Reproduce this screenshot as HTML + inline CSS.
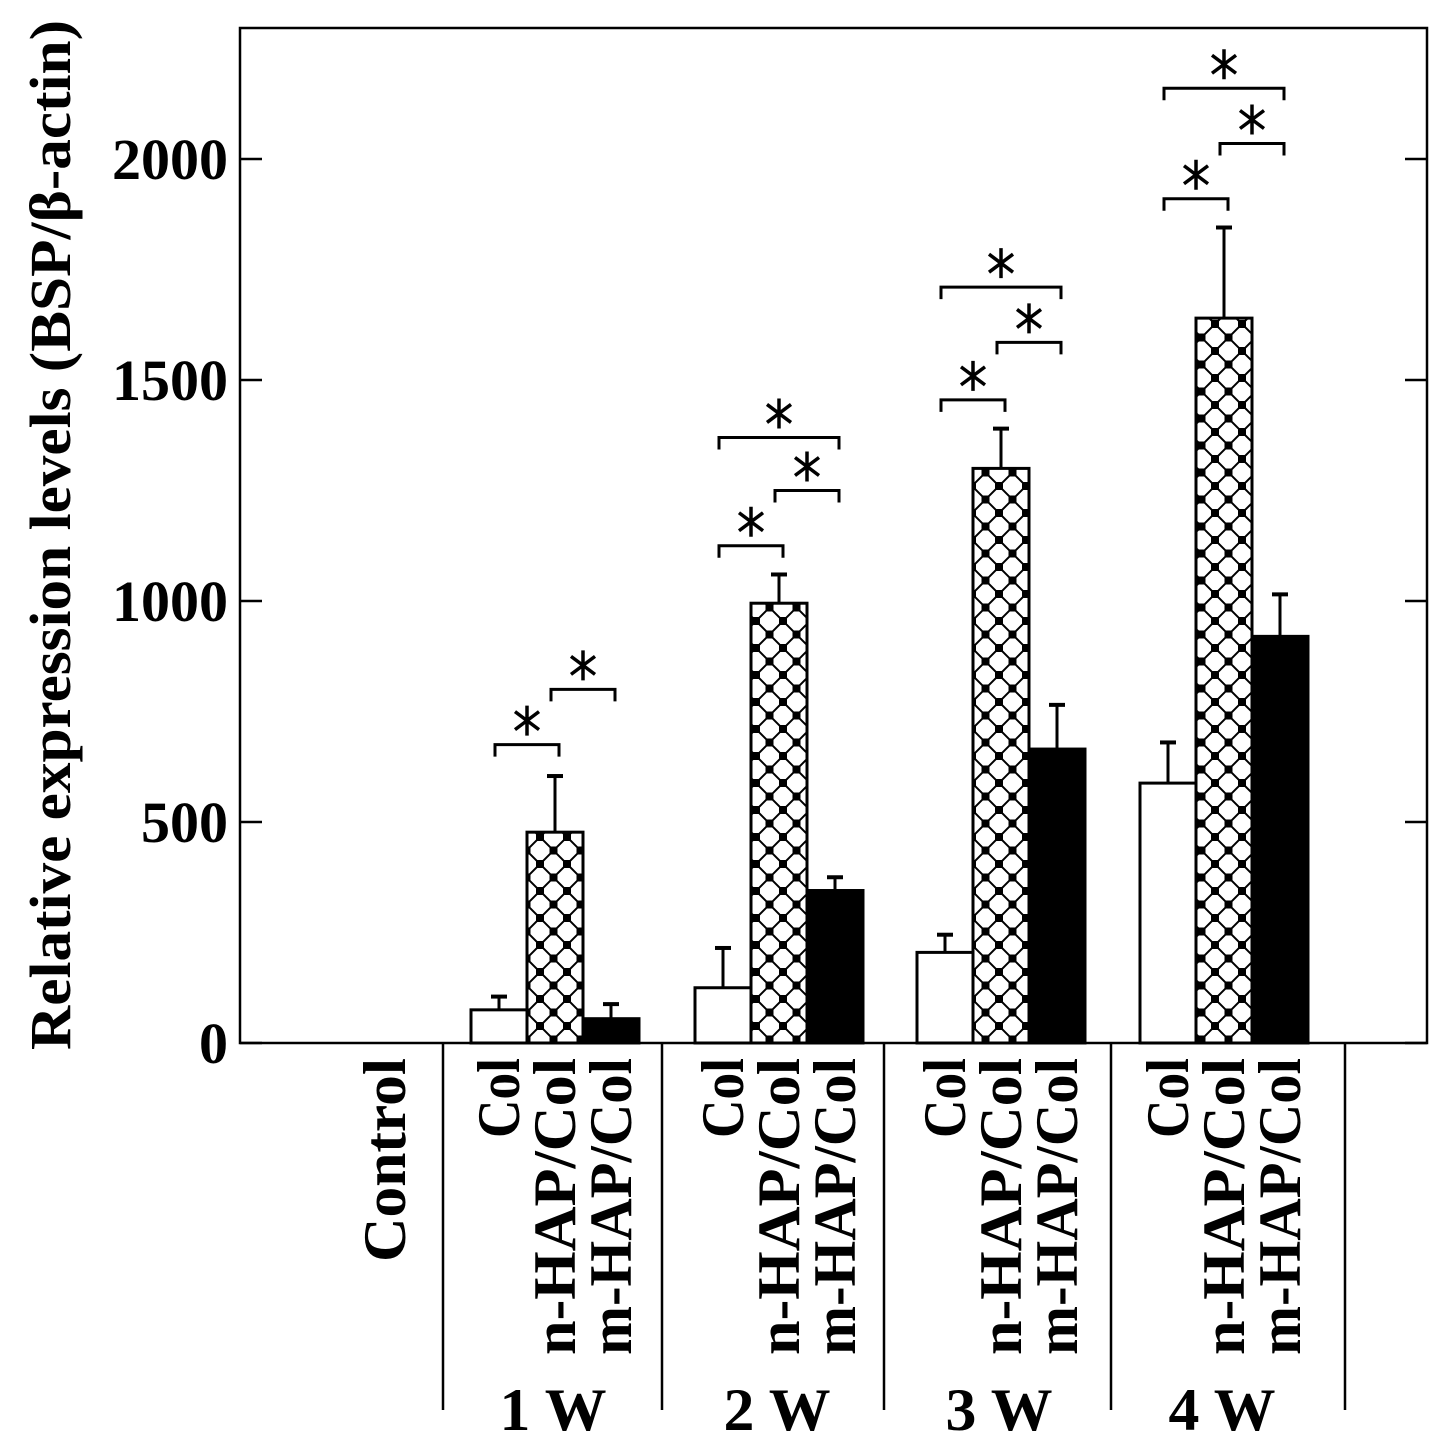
<!DOCTYPE html>
<html><head><meta charset="utf-8"><style>
html,body{margin:0;padding:0;background:#fff}
svg{display:block}
text{font-family:"Liberation Serif",serif;font-weight:bold;fill:#000}
</style></head><body>
<svg id="chart" width="1441" height="1441" viewBox="0 0 1441 1441" xmlns="http://www.w3.org/2000/svg">
<defs>
<pattern id="hatch" patternUnits="userSpaceOnUse" width="27" height="27" x="0" y="0">
<rect width="27" height="27" fill="#fff"/>
<path d="M0 0L27 27M27 0L0 27" stroke="#000" stroke-width="2"/>
<rect x="-4" y="-4" width="8" height="8" fill="#000"/>
<rect x="23" y="-4" width="8" height="8" fill="#000"/>
<rect x="-4" y="23" width="8" height="8" fill="#000"/>
<rect x="23" y="23" width="8" height="8" fill="#000"/>
<rect x="9.5" y="9.5" width="8" height="8" fill="#000"/>
</pattern>
</defs>
<g id="plot"></g>
</svg>
<script>
const groups = ['1 W','2 W','3 W','4 W'];
const series = ['Col','n-HAP/Col','m-HAP/Col'];
const colValues = [75,125,205,588];
const nhapValues = [477,995,1300,1640];
const mhapValues = [55,345,665,920];
const colErr = [30,90,40,92];
const nhapErr = [127,65,90,205];
const mhapErr = [33,30,100,95];
const yTicks = [0,500,1000,1500,2000];
// brackets: [group, fromBar, toBar, yValue]
const brackets = [[0,0,1,675],[0,1,2,800],[1,0,1,1125],[1,1,2,1250],[1,0,2,1370],[2,0,1,1455],[2,1,2,1585],[2,0,2,1710],[3,0,1,1910],[3,1,2,2035],[3,0,2,2160]];

const NS='http://www.w3.org/2000/svg';
const g=document.getElementById('plot');
const X0=240,X1=1427,Y0=1043,YT=28;
function y(v){return Y0 - v*0.442;}
const groupStart=[471,695,917,1140];
const barW=56;
function barX(gi,bi){return groupStart[gi]+bi*barW;}
function el(tag,attrs){const e=document.createElementNS(NS,tag);for(const k in attrs)e.setAttribute(k,attrs[k]);g.appendChild(e);return e;}
const labelLen={'Col':80,'n-HAP/Col':297,'m-HAP/Col':297};

let f=el('rect',{x:X0,y:YT,width:X1-X0,height:Y0-YT,fill:'none',stroke:'#000','stroke-width':2.5});


yTicks.forEach(t=>{
  let l=el('line',{x1:X0,x2:X0+22,y1:y(t),y2:y(t),stroke:'#000','stroke-width':2.5});
  
  
  let r=el('line',{x1:X1-22,x2:X1,y1:y(t),y2:y(t),stroke:'#000','stroke-width':2.5});
  
  
  let tx=el('text',{x:228,y:y(t)+20,'text-anchor':'end','font-size':58});
  tx.textContent=t;
  
  
});
let yt=el('text',{transform:'translate(70,535) rotate(-90)','text-anchor':'middle','font-size':58,textLength:1030,lengthAdjust:'spacingAndGlyphs'});
yt.textContent='Relative expression levels (BSP/β-actin)';



const vals=[colValues,nhapValues,mhapValues],errs=[colErr,nhapErr,mhapErr];
const fills=['#fff','url(#hatch)','#000'];
groups.forEach((gn,gi)=>{
  for(let bi=0;bi<3;bi++){
    const v=vals[bi][gi],e=errs[bi][gi],x=barX(gi,bi),cx=x+barW/2;
    let ln=el('line',{x1:cx,x2:cx,y1:y(v),y2:y(v+e),stroke:'#000','stroke-width':3});
    
    
    let cap=el('line',{x1:cx-8,x2:cx+8,y1:y(v+e),y2:y(v+e),stroke:'#000','stroke-width':4});
    
    
    let r=el('rect',{x:x,y:y(v),width:barW,height:Y0-y(v),fill:fills[bi],stroke:'#000','stroke-width':3});
    
    
    let lb=el('text',{transform:'translate('+(cx+20)+',1058) rotate(-90)','text-anchor':'end','font-size':60,textLength:labelLen[series[bi]],lengthAdjust:'spacingAndGlyphs'});
    lb.textContent=series[bi];
    
    
  }
  let gl=el('text',{x:groupStart[gi]+82,y:1430,'text-anchor':'middle','font-size':60,textLength:107,lengthAdjust:'spacingAndGlyphs'});
  gl.textContent=gn;
  
  
});
let cl=el('text',{transform:'translate(405,1058) rotate(-90)','text-anchor':'end','font-size':60,textLength:204,lengthAdjust:'spacingAndGlyphs'});
cl.textContent='Control';


[443,662,884,1111,1345].forEach(sx=>{
  let s=el('line',{x1:sx,x2:sx,y1:Y0,y2:1410,stroke:'#000','stroke-width':2.5});
  
  
});
brackets.forEach(b=>{
  const x1=barX(b[0],b[1])+barW/2-4,x2=barX(b[0],b[2])+barW/2+4,yy=y(b[3]),cx=(x1+x2)/2,cy=yy-24;
  let p=el('path',{d:`M${x1} ${yy+12}V${yy}H${x2}V${yy+12}`,fill:'none',stroke:'#000','stroke-width':3});
  
  
  let a=el('path',{d:`M${cx} ${cy-15}V${cy+15}M${cx-12} ${cy-9}L${cx+12} ${cy+9}M${cx+12} ${cy-9}L${cx-12} ${cy+9}`,stroke:'#000','stroke-width':3.5});
  
  
});
</script>
</body></html>
